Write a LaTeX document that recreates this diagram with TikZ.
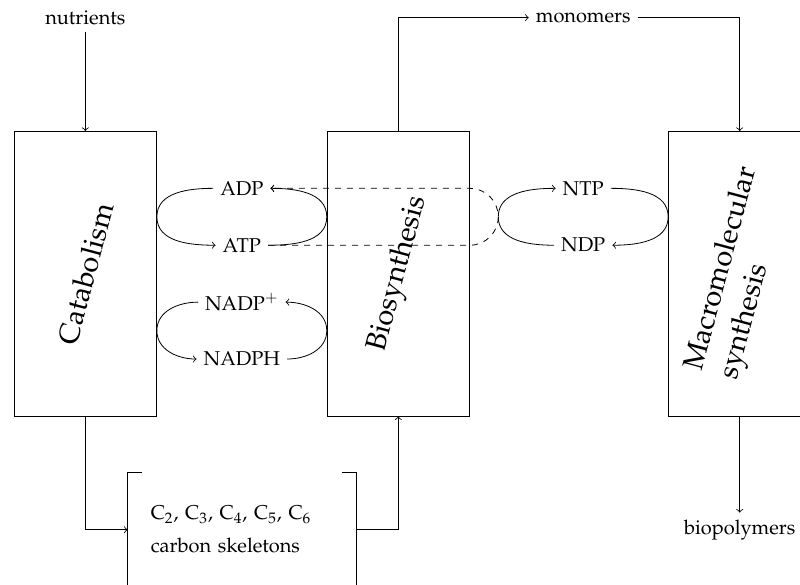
\documentclass[tikz,border=0pt]{standalone}
\usepackage[T1]{fontenc}
\usepackage{mathpazo}
\usepackage{tikz}
\begin{document}
\begin{tikzpicture}[>=to,
    process/.style={draw, minimum width=2.5cm, minimum height=5cm},
    proclabel/.style={rotate=75, font=\Large, align=left}]
    \useasboundingbox (0,-5.47) rectangle (14.06,4.81);
    \node[process] (cat) at (1.5,0) {};
    \node[process] (bio) at (7,0) {};
    \node[process] (mac) at (13,0) {};
    \node[proclabel] (catlab) at (cat) {Catabolism};
    \node[proclabel] (biolab) at (bio) {Biosynthesis};
    \node[proclabel] (maclab) at (mac) {Macromolecular\\synthesis};
    \node (nutr) at (1.5,4.5) {nutrients};
    \node (mono) at (10.25,4.5) {monomers};
    \node (poly) at (13,-4.5) {biopolymers};
    \node[minimum width=4cm, minimum height=2cm, text width=3.2cm, align=left] (skel) at (4.25,-4.5)
        {C$_2$, C$_3$, C$_4$, C$_5$, C$_6$\\[4.5pt] carbon skeletons};
    \node (adp) at (4.25,1.5) {ADP};
    \node (atp) at (4.25,0.5) {ATP};
    \node (nadp) at (4.25,-0.5) {NADP$^+$};
    \node (nadph) at (4.25,-1.5) {NADPH};
    \node (ntp) at (10.25,1.5) {NTP};
    \node (ndp) at (10.25,0.5) {NDP};
    \draw ([xshift=0.25cm]skel.north west) -- (skel.north west) -- (skel.south west);
    \draw ([xshift=-0.25cm]skel.north east) -- (skel.north east) -- (skel.south east);
    \draw[->] (nutr) -- (cat);
    \draw[->] (cat) |- (skel);
    \draw[->] (skel) -| (bio);
    \draw[->] (bio) |- (mono);
    \draw[->] (mono) -| (mac);
    \draw[->] (mac) -- (poly);
    \draw[->] (adp.west) to[out=180,in=90] ([yshift=1cm]cat.east) to[out=-90,in=180] (atp.west);
    \draw[->] (atp.east) to[out=0,in=-90] ([yshift=1cm]bio.west) to[out=90,in=0] (adp.east);
    \draw[->,dashed] (atp.east) -- (atp.east -| bio.east) to[out=0,in=-90] ([xshift=0.5cm,yshift=1cm]bio.east)
        to[out=90,in=0] (adp.east -| bio.east) -- (adp.east);
    \draw[->] (nadp.west) to[out=180,in=90] ([yshift=-1cm]cat.east) to[out=-90,in=180] (nadph.west);
    \draw[->] (nadph.east) to[out=0,in=-90] ([yshift=-1cm]bio.west) to[out=90,in=0] (nadp.east);
    \draw[->] (ndp.west) to[out=180,in=-90] ([xshift=0.5cm,yshift=1cm]bio.east) to[out=90,in=180] (ntp.west);
    \draw[->] (ntp.east) to[out=0,in=90] ([yshift=1cm]mac.west) to[out=-90,in=0] (ndp.east);
\end{tikzpicture}
\end{document}
